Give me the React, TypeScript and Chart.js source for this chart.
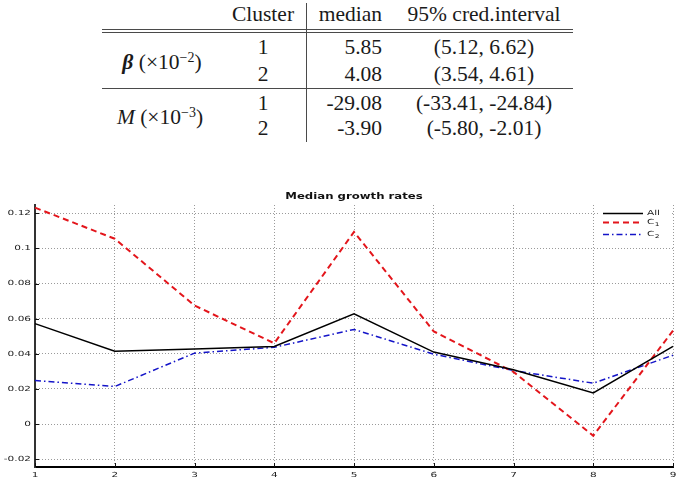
import React, { useEffect, useRef } from "react";
import { Chart, registerables } from "chart.js";

Chart.register(...registerables);

// ---------- chart data ----------
const xLabels = ["1", "2", "3", "4", "5", "6", "7", "8", "9"];
const allRates = [0.0572, 0.0415, 0.0428, 0.0442, 0.0628, 0.041, 0.0309, 0.0177, 0.0443];
const c1Rates = [0.1232, 0.1055, 0.0675, 0.046, 0.1094, 0.0528, 0.0297, -0.0066, 0.0532];
const c2Rates = [0.0248, 0.0214, 0.0404, 0.0437, 0.0539, 0.0398, 0.0305, 0.0233, 0.0392];
const legendBase = ["All", "C", "C"];
const legendSub = ["", "1", "2"];
const chartTitle = "Median growth rates";
const yMin = -0.0244;
const yMax = 0.1247;
const yStep = 0.02;

// ---------- table data ----------
const tableHeaders = ["Cluster", "median", "95% cred.interval"];
const tableClusters = ["1", "2", "1", "2"];
const tableMedians = ["5.85", "4.08", "-29.08", "-3.90"];
const tableIntervals = ["(5.12, 6.62)", "(3.54, 4.61)", "(-33.41, -24.84)", "(-5.80, -2.01)"];

const TICK_FONT = '7px "DejaVu Sans"';
const STRETCH = 1.5;

function stretchText(ctx: CanvasRenderingContext2D, text: string, x: number, y: number, align: CanvasTextAlign, sx: number) {
  ctx.save();
  ctx.translate(x, y);
  ctx.scale(sx, 1);
  ctx.textAlign = align;
  ctx.textBaseline = "middle";
  ctx.fillText(text, 0, 0);
  ctx.restore();
}

const decorPlugin = {
  id: "decor",
  afterDraw(chart: any) {
    const ctx: CanvasRenderingContext2D = chart.ctx;
    const area = chart.chartArea;
    const xs = chart.scales.x;
    const ys = chart.scales.y;
    ctx.save();
    // inward tick marks
    ctx.strokeStyle = "#111";
    ctx.lineWidth = 1;
    ys.ticks.forEach((t: any) => {
      const py = Math.round(ys.getPixelForValue(t.value)) + 0.5;
      ctx.beginPath();
      ctx.moveTo(area.left, py);
      ctx.lineTo(area.left + 4, py);
      ctx.stroke();
    });
    xs.ticks.forEach((t: any, i: number) => {
      const px = Math.round(xs.getPixelForTick(i)) + 0.5;
      ctx.beginPath();
      ctx.moveTo(px, area.bottom);
      ctx.lineTo(px, area.bottom - 4);
      ctx.stroke();
    });
    // tick labels
    ctx.fillStyle = "#222";
    ctx.font = TICK_FONT;
    ys.ticks.forEach((t: any) => {
      const py = ys.getPixelForValue(t.value);
      const label = parseFloat(Number(t.value).toFixed(3)).toString();
      stretchText(ctx, label, area.left - 4, py, "right", STRETCH);
    });
    xs.ticks.forEach((t: any, i: number) => {
      const px = xs.getPixelForTick(i);
      stretchText(ctx, xLabels[i], px, area.bottom + 8, "center", STRETCH);
    });
    // title
    ctx.font = 'bold 9px "DejaVu Sans"';
    ctx.fillStyle = "#111";
    stretchText(ctx, chartTitle, (area.left + area.right) / 2, 13, "center", 1.3);
    // legend
    ctx.fillStyle = "#fff";
    ctx.fillRect(598, 22, 72, 34);
    const rowsY = [29.5, 38.5, 50.5];
    chart.data.datasets.forEach((ds: any, i: number) => {
      const y = rowsY[i];
      ctx.save();
      ctx.strokeStyle = ds.borderColor;
      ctx.lineWidth = ds.borderWidth;
      ctx.setLineDash(ds.borderDash || []);
      ctx.beginPath();
      ctx.moveTo(603, y);
      ctx.lineTo(643, y);
      ctx.stroke();
      ctx.restore();
      ctx.fillStyle = "#222";
      ctx.font = TICK_FONT;
      stretchText(ctx, legendBase[i], 647, y, "left", STRETCH);
      if (legendSub[i]) {
        const w = ctx.measureText(legendBase[i]).width * STRETCH;
        ctx.font = '5px "DejaVu Sans"';
        stretchText(ctx, legendSub[i], 647 + w + 0.5, y + 2.5, "left", STRETCH);
      }
    });
    ctx.restore();
  },
};

function ChartCanvas() {
  const ref = useRef<HTMLCanvasElement | null>(null);
  useEffect(() => {
    if (!ref.current) return;
    const chart = new Chart(ref.current, {
      type: "line",
      data: {
        labels: xLabels,
        datasets: [
          { label: "All", data: allRates, borderColor: "#000000", borderWidth: 1.5, borderDash: [], pointRadius: 0, tension: 0, fill: false },
          { label: "C1", data: c1Rates, borderColor: "#e3151b", borderWidth: 2, borderDash: [6, 4], pointRadius: 0, tension: 0, fill: false },
          { label: "C2", data: c2Rates, borderColor: "#1414c8", borderWidth: 1.5, borderDash: [6, 3, 1.5, 3], pointRadius: 0, tension: 0, fill: false },
        ],
      },
      options: {
        responsive: false,
        animation: false,
        layout: { padding: { top: 21, right: 9, left: 0, bottom: 0 } },
        plugins: { legend: { display: false }, title: { display: false }, tooltip: { enabled: false } },
        scales: {
          x: {
            type: "category",
            offset: false,
            ticks: { display: false },
            grid: { color: "#9a9a9a", lineWidth: 1, drawTicks: false },
            border: { display: true, color: "#000", width: 2, dash: [1, 2] },
            afterFit: (s: any) => { s.height = 17; },
          },
          y: {
            type: "linear",
            min: yMin,
            max: yMax,
            ticks: { display: false, stepSize: yStep, includeBounds: false },
            grid: { color: "#9a9a9a", lineWidth: 1, drawTicks: false },
            border: { display: true, color: "#333", width: 2, dash: [1, 2] },
            afterFit: (s: any) => { s.width = 35; },
          },
        },
      },
      plugins: [decorPlugin],
    } as any);
    return () => chart.destroy();
  }, []);
  return (
    <canvas ref={ref} width={682} height={300} style={{ position: "absolute", left: 0, top: 184, width: 682, height: 300 }} />
  );
}

const serif = '"Liberation Serif", "Times New Roman", serif';

function Cell(props: { text: React.ReactNode; left: number; center: number; width: number; align: "left" | "center" | "right" }) {
  return (
    <div
      style={{
        position: "absolute",
        left: props.left,
        top: props.center - 12,
        width: props.width,
        lineHeight: "24px",
        height: 24,
        textAlign: props.align,
        whiteSpace: "nowrap",
      }}
    >
      {props.text}
    </div>
  );
}

function Table() {
  const rowCenters = [47, 74, 103, 128];
  const line = (left: number, top: number, w: number, h: number) => (
    <div style={{ position: "absolute", left, top, width: w, height: h, background: "#4a4a4a" }} />
  );
  return (
    <div style={{ position: "absolute", left: 0, top: 0, width: 682, height: 150, fontFamily: serif, fontSize: 21.5, color: "#1a1a1a" }}>
      <Cell text={tableHeaders[0]} left={213} center={14} width={100} align="center" />
      <Cell text={tableHeaders[1]} left={282} center={14} width={100} align="right" />
      <Cell text={tableHeaders[2]} left={384} center={14} width={200} align="center" />
      {rowCenters.map((c, i) => (
        <React.Fragment key={i}>
          <Cell text={tableClusters[i]} left={213} center={c} width={100} align="center" />
          <Cell text={tableMedians[i]} left={282} center={c} width={100} align="right" />
          <Cell text={tableIntervals[i]} left={384} center={c} width={200} align="center" />
        </React.Fragment>
      ))}
      <Cell
        text={<span><b><i>β</i></b> (×10<sup style={{ fontSize: 14, verticalAlign: "7px", lineHeight: 0 }}>−2</sup>)</span>}
        left={101}
        center={62}
        width={122}
        align="center"
      />
      <Cell
        text={<span><i>M</i> (×10<sup style={{ fontSize: 14, verticalAlign: "7px", lineHeight: 0 }}>−3</sup>)</span>}
        left={99}
        center={117}
        width={122}
        align="center"
      />
      {line(306, 3, 1, 139)}
      {line(102, 29, 471, 1)}
      {line(102, 32, 471, 1)}
      {line(102, 88, 471, 1)}
    </div>
  );
}

export default function App() {
  return (
    <div style={{ position: "absolute", left: 0, top: 0, width: 682, height: 484, background: "#fff", overflow: "hidden" }}>
      <Table />
      <ChartCanvas />
    </div>
  );
}
